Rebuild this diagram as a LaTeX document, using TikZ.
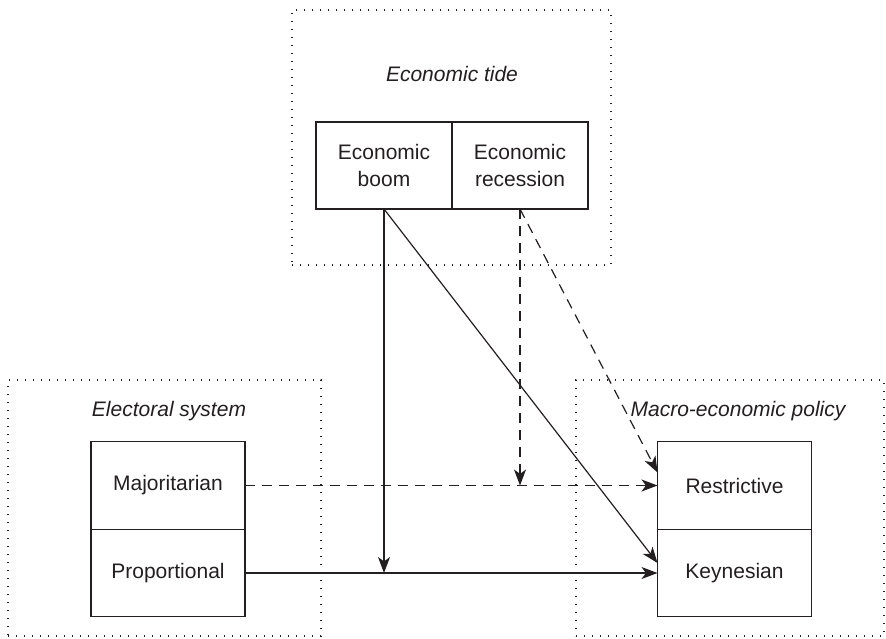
\documentclass[tikz,border=0pt]{standalone}
\usepackage{fontspec}
\setmainfont{Liberation Sans}
\usepackage{tikz}
\usetikzlibrary{arrows.meta,positioning,calc}
\definecolor{ink}{RGB}{35,31,32}
\tikzset{
  Cbox/.style={draw=ink, text=ink, line width=0.6pt, align=center,
               font=\fontsize{10.5}{13.5}\selectfont,
               minimum width=68pt, minimum height=43.5pt, inner sep=0pt, outer sep=0pt},
  Lbox/.style={Cbox, minimum width=77pt, minimum height=43.75pt},
  Gframe/.style={draw=ink, line width=0.7pt, dash pattern=on 0.6pt off 3.4pt,
                 minimum height=128pt, inner sep=0pt},
  Gtitle/.style={text=ink, font=\fontsize{10.5}{13.5}\selectfont\itshape},
  Narr/.style={-{Stealth[length=8pt, width=6pt, inset=2.2pt]}, draw=ink, line width=0.6pt},
  Darr/.style={Narr, dash pattern=on 5pt off 3.5pt}
}
\begin{document}
\begin{tikzpicture}[x=0.5pt, y=-0.5pt]
  \useasboundingbox (0,0) rectangle (886,638);

  % group frames
  \node[Gframe, minimum width=159.5pt, minimum height=127.5pt] (fTide) at (451.5,137.5) {};
  \node[Gframe, minimum width=156.5pt] (fElec) at (164.5,508) {};
  \node[Gframe, minimum width=154pt] (fMacro) at (730,508) {};

  \node[Gtitle] (tTide) at (452,74) {Economic tide};
  \node[Gtitle] (tElec) at (169,411) {Electoral system};
  \node[Gtitle] (tMacro) at (738,411) {Macro-economic policy};

  % economic tide
  \node[Cbox] (boom) at (384,165.5) {Economic\\boom};
  \node[Cbox, right=0pt of boom] (rec) {Economic\\recession};

  % electoral system
  \node[Lbox] (maj) at (168,485.5) {Majoritarian};
  \node[Lbox, below=0pt of maj] (prop) {Proportional};

  % policy
  \node[Lbox] (restr) at (734.5,485.5) {Restrictive};
  \node[Lbox, below=0pt of restr] (keyn) {Keynesian};

  \draw[Darr] (maj.east) -- (restr.west);
  \draw[Narr] (prop.east) -- (keyn.west);
  \draw[Narr] (boom.south) -- (boom.south |- prop.east);
  \draw[Narr] (boom.south) -- ($(keyn.west)+(0,-10)$);
  \draw[Darr] (rec.south) -- (rec.south |- maj.east);
  \draw[Darr] (rec.south) -- ($(restr.west)+(0,-13)$);
\end{tikzpicture}
\end{document}
